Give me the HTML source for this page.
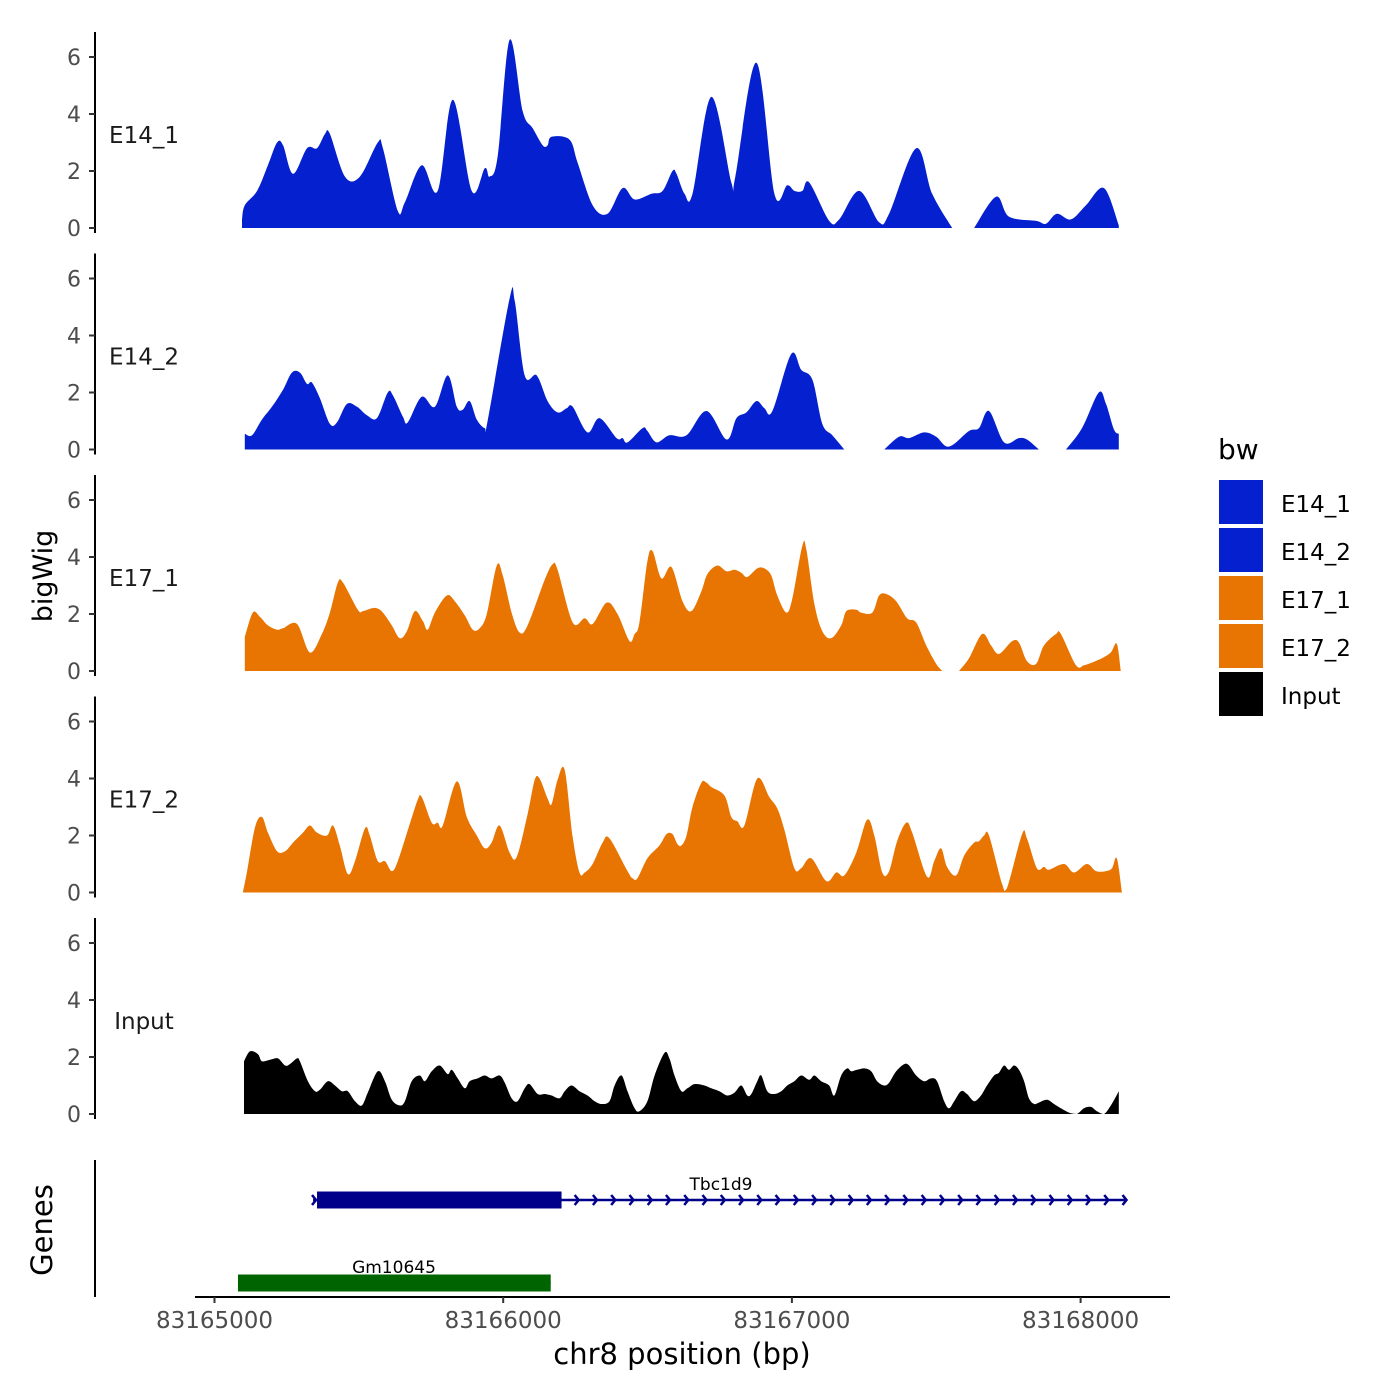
<!DOCTYPE html>
<html><head><meta charset="utf-8"><style>
body{margin:0;background:#fff}
svg{display:block;font-family:"DejaVu Sans","Liberation Sans",sans-serif}
</style></head><body>
<svg id="chart" width="1400" height="1400" viewBox="0 0 1400 1400" xmlns="http://www.w3.org/2000/svg">
<rect width="1400" height="1400" fill="#fff"/>
<g id="panels"></g>
<g id="genes"></g>
<g id="xaxis"></g>
<text x="52" y="576" transform="rotate(-90 52 576)" text-anchor="middle" font-size="27" fill="#000">bigWig</text>
<text x="52" y="1230" transform="rotate(-90 52 1230)" text-anchor="middle" font-size="29" fill="#000">Genes</text>
<text x="682" y="1364" text-anchor="middle" font-size="29" fill="#000">chr8 position (bp)</text>
<g id="legend"></g>
</svg>
<script>
const NS="http://www.w3.org/2000/svg";
const START=83165000;
const sampleNames=["E14_1","E14_2","E17_1","E17_2","Input"];
const sampleColors=["#0520CF","#0520CF","#E87502","#E87502","#000000"];
const yTicks=[0,2,4,6];
const xTicks=[83165000,83166000,83167000,83168000];
const xTickLabels=["83165000","83166000","83167000","83168000"];
// [bp offset from track origin, signal]; null = gap
const e14_1=[[70,0.3],[80,0.8],[123,1.3],[161,2.2],[193,3.0],[214,2.9],[249,1.9],[298,2.8],[333,2.8],[361,3.3],[378,3.3],[431,1.8],[483,1.8],[546,3.0],[564,2.8],[616,0.6],[641,0.9],[700,2.2],[756,1.3],[809,4.5],[875,1.3],[921,2.1],[938,1.8],[966,2.5],[1008,6.6],[1054,4.1],[1089,3.5],[1124,2.9],[1141,2.9],[1155,3.2],[1218,3.1],[1246,2.3],[1299,0.8],[1351,0.5],[1404,1.4],[1446,1.0],[1505,1.2],[1544,1.3],[1579,2.0],[1593,1.9],[1621,1.2],[1649,1.2],[1715,4.6],[1785,1.6],[1799,1.8],[1873,5.8],[1936,1.2],[1981,1.5],[2006,1.3],[2034,1.3],[2058,1.6],[2128,0.25],[2163,0.3],[2233,1.3],[2303,0.2],[2338,0.5],[2433,2.8],[2489,1.2],[2559,0],[2600,null],[2636,0],[2713,1.1],[2758,0.4],[2853,0.25],[2888,0.15],[2926,0.5],[2975,0.3],[3028,0.8],[3091,1.4],[3143,0.1]];
const e14_2=[[80,0.55],[105,0.5],[140,1.05],[175,1.5],[214,2.1],[245,2.7],[273,2.7],[298,2.3],[315,2.35],[343,1.8],[378,0.9],[403,0.95],[438,1.6],[473,1.5],[508,1.2],[543,1.1],[581,2.0],[599,1.9],[634,1.15],[651,0.95],[700,1.85],[746,1.5],[791,2.6],[823,1.5],[844,1.4],[868,1.7],[893,1.05],[921,0.75],[931,1.0],[1008,5.3],[1026,5.2],[1061,2.6],[1103,2.6],[1141,1.7],[1176,1.3],[1208,1.45],[1229,1.5],[1281,0.6],[1323,1.1],[1383,0.4],[1404,0.4],[1421,0.25],[1474,0.75],[1491,0.65],[1523,0.25],[1568,0.5],[1628,0.5],[1698,1.35],[1768,0.35],[1803,1.1],[1838,1.3],[1873,1.7],[1901,1.45],[1929,1.35],[1995,3.35],[2030,2.8],[2069,2.45],[2104,0.9],[2139,0.5],[2181,0],[2250,null],[2321,0],[2373,0.45],[2408,0.4],[2461,0.6],[2503,0.45],[2548,0.1],[2618,0.65],[2653,0.75],[2688,1.35],[2741,0.25],[2793,0.4],[2821,0.35],[2863,0],[2910,null],[2958,0],[3014,0.75],[3073,2.0],[3098,1.6],[3126,0.7],[3143,0.55]];
const e17_1=[[80,1.2],[108,2.05],[133,1.9],[161,1.6],[193,1.45],[214,1.5],[263,1.65],[308,0.65],[350,1.3],[378,2.05],[406,3.1],[424,3.1],[476,2.15],[494,2.1],[525,2.2],[543,2.2],[564,2.05],[595,1.6],[623,1.15],[648,1.4],[676,2.1],[704,1.75],[721,1.45],[746,2.05],[788,2.65],[816,2.45],[851,1.95],[879,1.45],[903,1.5],[928,2.0],[963,3.7],[984,3.35],[1015,2.05],[1043,1.35],[1071,1.6],[1131,3.2],[1159,3.75],[1176,3.55],[1229,1.7],[1271,1.85],[1299,1.65],[1348,2.4],[1386,2.0],[1428,1.05],[1446,1.3],[1463,1.7],[1491,3.85],[1509,4.2],[1540,3.25],[1575,3.65],[1614,2.45],[1645,2.1],[1680,2.8],[1701,3.4],[1736,3.7],[1768,3.5],[1796,3.55],[1820,3.45],[1841,3.3],[1876,3.6],[1901,3.6],[1925,3.35],[1946,2.65],[1978,2.05],[1999,2.55],[2034,4.4],[2048,4.25],[2076,2.35],[2104,1.4],[2135,1.15],[2170,1.6],[2188,2.1],[2223,2.15],[2240,2.05],[2279,2.05],[2303,2.65],[2328,2.7],[2363,2.45],[2401,1.85],[2433,1.7],[2468,0.9],[2503,0.25],[2524,0],[2550,null],[2583,0],[2618,0.45],[2664,1.3],[2695,0.9],[2723,0.6],[2769,1.05],[2793,1.0],[2821,0.35],[2853,0.25],[2881,0.9],[2923,1.3],[2940,1.3],[2993,0.2],[3021,0.2],[3049,0.3],[3084,0.45],[3115,0.65],[3136,0.95],[3150,0]];
const e17_2=[[74,0.05],[88,0.75],[116,2.3],[140,2.65],[161,2.1],[193,1.45],[221,1.45],[249,1.75],[284,2.1],[308,2.35],[333,2.1],[368,2.0],[389,2.35],[413,1.65],[441,0.65],[466,1.1],[501,2.25],[518,2.0],[546,1.1],[571,1.1],[595,0.75],[616,1.1],[658,2.4],[686,3.25],[700,3.35],[735,2.45],[756,2.45],[774,2.35],[823,3.9],[858,2.65],[893,2.0],[921,1.55],[945,1.75],[973,2.35],[1008,1.4],[1033,1.25],[1071,2.75],[1096,3.95],[1113,4.0],[1141,3.3],[1155,3.1],[1176,3.95],[1201,4.3],[1229,1.95],[1253,0.7],[1271,0.7],[1299,1.0],[1334,1.75],[1358,1.9],[1421,0.75],[1439,0.5],[1456,0.5],[1491,1.2],[1533,1.65],[1558,2.05],[1579,2.05],[1596,1.7],[1610,1.65],[1628,2.0],[1649,3.0],[1680,3.85],[1698,3.85],[1715,3.7],[1761,3.4],[1785,2.65],[1806,2.5],[1831,2.35],[1876,4.0],[1918,3.35],[1946,2.95],[1971,2.2],[2006,0.85],[2030,0.85],[2065,1.2],[2118,0.4],[2153,0.7],[2181,0.6],[2223,1.4],[2261,2.55],[2286,2.0],[2314,0.7],[2338,0.75],[2366,1.8],[2398,2.45],[2419,2.1],[2471,0.55],[2496,1.1],[2520,1.55],[2541,0.9],[2573,0.6],[2601,1.3],[2636,1.75],[2653,1.8],[2671,2.0],[2688,2.0],[2734,0.3],[2751,0.15],[2804,2.05],[2821,1.9],[2856,0.85],[2881,0.9],[2898,0.8],[2951,1.0],[2986,0.7],[3031,1.0],[3063,0.75],[3098,0.75],[3119,0.85],[3136,1.2],[3154,0]];
const input=[[77,1.85],[98,2.2],[126,2.1],[140,1.85],[168,1.9],[196,1.95],[221,1.7],[238,1.75],[263,1.95],[273,1.85],[301,1.15],[326,0.8],[343,0.85],[371,1.15],[396,1.0],[420,0.8],[441,0.8],[466,0.45],[490,0.3],[511,0.75],[546,1.5],[571,1.15],[595,0.5],[623,0.3],[641,0.45],[665,1.15],[693,1.35],[711,1.15],[735,1.5],[763,1.7],[791,1.4],[805,1.55],[826,1.25],[851,0.9],[868,1.15],[896,1.25],[921,1.35],[945,1.25],[973,1.35],[991,1.1],[1015,0.55],[1036,0.45],[1061,0.9],[1078,1.05],[1106,0.7],[1131,0.7],[1155,0.65],[1183,0.55],[1201,0.8],[1225,1.0],[1253,0.8],[1281,0.65],[1306,0.45],[1330,0.35],[1358,0.45],[1376,1.0],[1400,1.35],[1421,0.8],[1446,0.2],[1463,0.1],[1491,0.45],[1516,1.35],[1551,2.15],[1568,1.95],[1586,1.35],[1610,0.8],[1631,0.9],[1656,1.05],[1691,1.0],[1715,0.9],[1743,0.8],[1771,0.65],[1796,0.75],[1820,1.0],[1841,0.65],[1855,0.7],[1876,1.15],[1890,1.35],[1911,0.8],[1936,0.7],[1960,0.8],[1981,1.0],[2006,1.15],[2030,1.35],[2058,1.2],[2076,1.35],[2100,1.15],[2128,1.0],[2146,0.65],[2170,1.35],[2191,1.6],[2205,1.5],[2226,1.55],[2251,1.6],[2275,1.5],[2296,1.15],[2321,1.0],[2338,1.1],[2363,1.5],[2391,1.75],[2408,1.7],[2433,1.35],[2461,1.15],[2485,1.25],[2506,1.15],[2531,0.45],[2548,0.2],[2566,0.45],[2590,0.8],[2611,0.7],[2636,0.45],[2660,0.65],[2681,1.0],[2706,1.35],[2723,1.45],[2741,1.7],[2758,1.55],[2776,1.7],[2793,1.55],[2811,1.15],[2828,0.55],[2846,0.35],[2863,0.4],[2891,0.5],[2916,0.35],[2940,0.2],[2968,0.05],[2996,0],[3021,0.2],[3045,0.25],[3066,0.1],[3091,0],[3115,0.3],[3143,0.8]];
const seriesList=[e14_1,e14_2,e17_1,e17_2,input];
const geneNames=["Tbc1d9","Gm10645"];
const geneStarts=[319,56];
const geneEnds=[3171,1152];
const geneExonStarts=[333,56];
const geneExonEnds=[1190,1152];
const geneStrand=[1,-1];

// axis scale (ticks)
function xs(bp){return 214.5+(bp-START)*0.2887;}
// track coordinate scale (offsets as read from tracks)
function xo(off){return 222+off*0.285333;}
const panelTop0=32, panelStride=221.5, panelH=201, baseOff=196, unitPx=28.5;
function ys(p,v){return panelTop0+p*panelStride+baseOff-v*unitPx;}

const panels=document.getElementById('panels');
function mk(tag,attrs,parent){const e=document.createElementNS(NS,tag);for(const k in attrs)e.setAttribute(k,attrs[k]);parent.appendChild(e);return e;}

function smoothPath(pts,base){
  let d='M'+pts[0][0].toFixed(1)+','+base.toFixed(1)+'L'+pts[0][0].toFixed(1)+','+pts[0][1].toFixed(1);
  for(let i=0;i<pts.length-1;i++){
    const p0=pts[Math.max(0,i-1)],p1=pts[i],p2=pts[i+1],p3=pts[Math.min(pts.length-1,i+2)];
    const c1x=p1[0]+(p2[0]-p0[0])/6, c1y=Math.min(base,p1[1]+(p2[1]-p0[1])/6);
    const c2x=p2[0]-(p3[0]-p1[0])/6, c2y=Math.min(base,p2[1]-(p3[1]-p1[1])/6);
    d+='C'+c1x.toFixed(1)+','+c1y.toFixed(1)+' '+c2x.toFixed(1)+','+c2y.toFixed(1)+' '+p2[0].toFixed(1)+','+p2[1].toFixed(1);
  }
  d+='L'+pts[pts.length-1][0].toFixed(1)+','+base.toFixed(1)+'Z';
  return d;
}

seriesList.forEach((ser,p)=>{
  const g=mk('g',{},panels);
  
  
  let segs=[],cur=[];
  ser.forEach(pt=>{if(pt[1]===null){if(cur.length)segs.push(cur);cur=[];}else cur.push(pt);});
  if(cur.length)segs.push(cur);
  segs.forEach(s=>{
    const pts=s.map(pt=>[xo(pt[0]),ys(p,pt[1])]);
    const a=mk('path',{d:smoothPath(pts,ys(p,0)),fill:sampleColors[p]},g);
    
    
  });
  const top=panelTop0+p*panelStride;
  const ax=mk('line',{x1:95,x2:95,y1:top,y2:top+panelH,stroke:'#000','stroke-width':2},g);
  
  
  yTicks.forEach(t=>{
    const y=ys(p,t);
    const tk=mk('line',{x1:89,x2:95,y1:y,y2:y,stroke:'#333','stroke-width':2},g);
    
    
    const tl=mk('text',{x:81,y:y+8,'text-anchor':'end','font-size':22,fill:'#4d4d4d'},g);
    tl.textContent=t;
    
    
  });
  const lb=mk('text',{x:144,y:top+111,'text-anchor':'middle','font-size':23,fill:'#1a1a1a'},g);
  lb.textContent=sampleNames[p];
  
  
});

// genes
const gg=document.getElementById('genes');
const gax=mk('line',{x1:95,x2:95,y1:1160,y2:1297,stroke:'#000','stroke-width':2},gg);


const geneColors=["#00008B","#006400"];
const geneY=[1200,1283];
geneNames.forEach((n,i)=>{
  const g=mk('g',{},gg);
  
  
  const y=geneY[i],c=geneColors[i];
  mk('line',{x1:xo(geneStarts[i]),x2:xo(geneEnds[i]),y1:y,y2:y,stroke:c,'stroke-width':2.5},g);
  mk('rect',{x:xo(geneExonStarts[i]),y:y-8.5,width:xo(geneExonEnds[i])-xo(geneExonStarts[i]),height:17,fill:c},g);
  if(geneStrand[i]>0){
    for(let b=geneExonEnds[i]+60;b<=geneEnds[i];b+=64){
      const x=xo(b);
      mk('path',{d:'M'+(x-4)+','+(y-5)+'L'+x+','+y+'L'+(x-4)+','+(y+5),stroke:c,'stroke-width':2.5,fill:'none'},g);
    }
    const x0=xo(geneStarts[i]);
    mk('path',{d:'M'+(x0-1)+','+(y-5)+'L'+(x0+3)+','+y+'L'+(x0-1)+','+(y+5),stroke:c,'stroke-width':2.5,fill:'none'},g);
  }
  const lt=mk('text',{x:i===0?721:394,y:y-10,'text-anchor':'middle','font-size':17,fill:'#000'},g);
  lt.textContent=n;
  
  
});

// x axis
const xg=document.getElementById('xaxis');
mk('line',{x1:195,x2:1170,y1:1297,y2:1297,stroke:'#000','stroke-width':2},xg);
xTicks.forEach((t,i)=>{
  const x=xs(t);
  mk('line',{x1:x,x2:x,y1:1297,y2:1303,stroke:'#333','stroke-width':2},xg);
  const tl=mk('text',{x:x,y:1328,'text-anchor':'middle','font-size':23,fill:'#4d4d4d'},xg);
  tl.textContent=xTickLabels[i];
  
  
});

// legend
const lg=document.getElementById('legend');
const lt=mk('text',{x:1218,y:459,'font-size':28,fill:'#000'},lg);
lt.textContent='bw';


sampleNames.forEach((n,i)=>{
  const y=480+i*48;
  const g=mk('g',{},lg);
  
  
  mk('rect',{x:1219,y:y,width:44,height:44,fill:sampleColors[i]},g);
  const t=mk('text',{x:1281,y:y+32,'font-size':23,fill:'#000'},g);
  t.textContent=n;
});
</script>
</body></html>
